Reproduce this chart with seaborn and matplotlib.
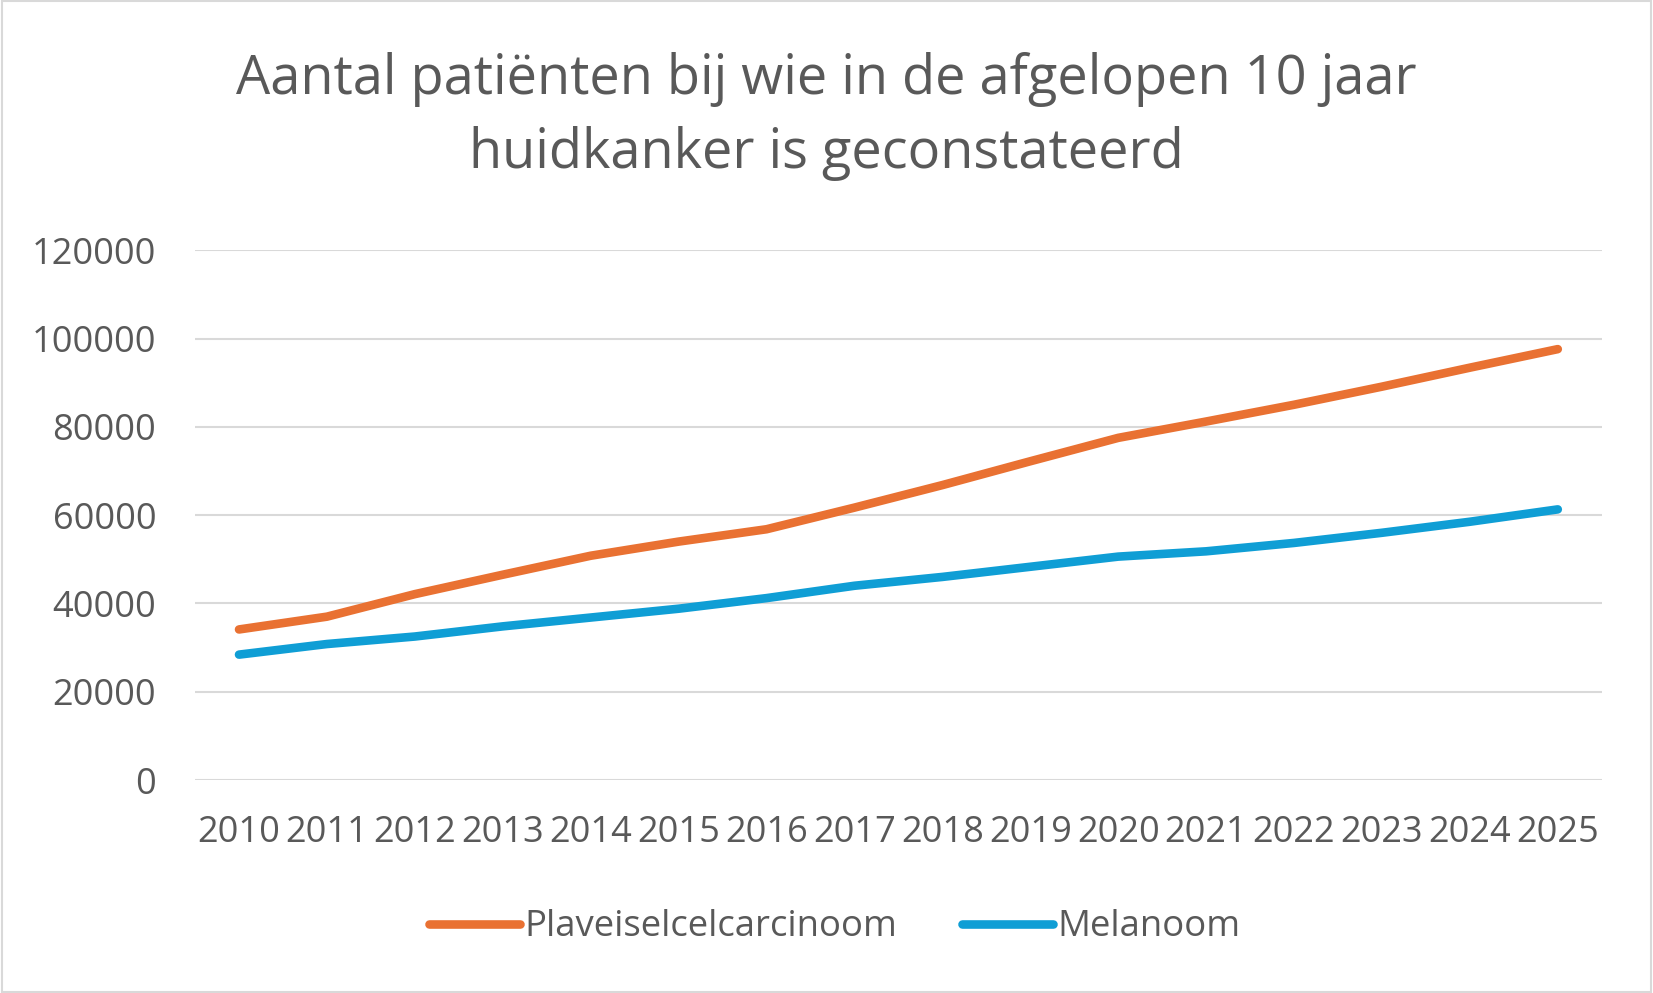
import pandas as pd
import matplotlib
matplotlib.use("Agg")
import matplotlib.pyplot as plt
import seaborn as sns

# data
years = list(range(2010, 2026))
plaveisel = [34100, 37000, 42100, 46500, 50800, 54000, 56800, 61700,
             66800, 72200, 77500, 81200, 85000, 89100, 93400, 97600]
melanoom = [28400, 30800, 32500, 34800, 36800, 38800, 41200, 44000,
            46000, 48300, 50600, 51800, 53700, 56000, 58500, 61300]
series_names = ["Plaveiselcelcarcinoom", "Melanoom"]
title = "Aantal patiënten bij wie in de afgelopen 10 jaar\nhuidkanker is geconstateerd"

df = pd.DataFrame({
    "jaar": years * 2,
    "aantal": plaveisel + melanoom,
    "soort": [series_names[0]] * len(years) + [series_names[1]] * len(years),
})

sns.set_theme(style="white")
plt.rcParams["font.family"] = ["Open Sans", "DejaVu Sans"]
text_col = "#595959"
grid_col = "#D9D9D9"

fig = plt.figure(figsize=(16.53, 9.93), dpi=100)
ax = fig.add_axes([0.118, 0.2145, 0.851, 0.5335])

sns.lineplot(data=df, x="jaar", y="aantal", hue="soort",
             palette=["#E97132", "#0F9ED5"], linewidth=6.2, ax=ax,
             legend=False)
for ln in ax.lines:
    ln.set_solid_capstyle("round")
    ln.set_solid_joinstyle("round")

ax.set_xlim(years[0] - 0.5, years[-1] + 0.5)
ax.set_ylim(0, 120000)
ax.set_xticks(years)
ax.set_xticklabels([str(y) for y in years])
ax.set_yticks(range(0, 120001, 20000))
ax.yaxis.grid(True, color=grid_col, linewidth=1.5)
ax.set_axisbelow(True)
for s in ax.spines.values():
    s.set_visible(False)
ax.tick_params(axis="both", length=0, labelsize=26, colors=text_col)
ax.tick_params(axis="x", pad=25)
ax.tick_params(axis="y", pad=28)
ax.set_xlabel("")
ax.set_ylabel("")

fig.text(0.5, 0.883, title, ha="center", va="center", fontsize=39,
         color=text_col, linespacing=1.45)

# legend built from the plotted lines
handles = ax.lines[:2]
leg = fig.legend(handles, series_names, loc="center", bbox_to_anchor=(0.505, 0.066),
                 ncol=2, frameon=False, fontsize=26.3, handlelength=2.5,
                 handletextpad=0.12, columnspacing=1.75)
for t in leg.get_texts():
    t.set_color(text_col)

# light chart-area border
fig.patches.append(plt.Rectangle((0.001, 0.001), 0.998, 0.998, transform=fig.transFigure,
                                 fill=False, edgecolor=grid_col, linewidth=1.5))

fig.savefig("out.png", dpi=100, facecolor="white")
